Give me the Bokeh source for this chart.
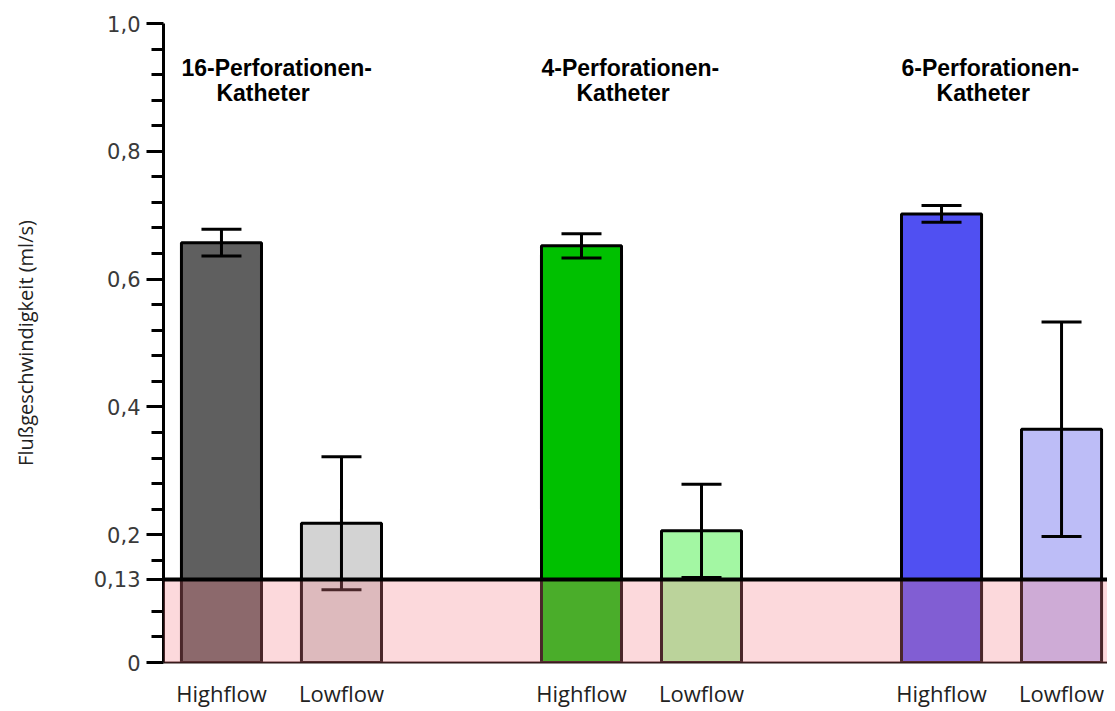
from bokeh.plotting import figure
from bokeh.models import (ColumnDataSource, Range1d, FixedTicker, Whisker, TeeHead,
                          BoxAnnotation, Span, Label)
from bokeh.embed import file_html
from bokeh.resources import INLINE

# ---- data ----
groups = ["16-Perforationen-", "4-Perforationen-", "6-Perforationen-"]
group_line2 = ["Katheter", "Katheter", "Katheter"]
conditions = ["Highflow", "Lowflow"]
means = [0.657, 0.218, 0.652, 0.206, 0.702, 0.365]
errors = [0.021, 0.104, 0.019, 0.073, 0.013, 0.168]
colors = ["#5f5f5f", "#d3d3d3", "#00c000", "#a3f7a3", "#5050f2", "#bdbdf7"]
threshold = 0.13
y_tick_values = [0, 0.13, 0.2, 0.4, 0.6, 0.8, 1.0]
y_tick_labels = ["0", "0,13", "0,2", "0,4", "0,6", "0,8", "1,0"]
y_axis_title = "Flußgeschwindigkeit (ml/s)"

# ---- layout (positions computed from indices) ----
xs, labels = [], []
for g in range(len(groups)):
    for s, c in enumerate(conditions):
        xs.append(1 + 3 * g + s)
        labels.append(c)

src = ColumnDataSource(dict(
    x=xs, top=means, color=colors,
    upper=[m + e for m, e in zip(means, errors)],
    lower=[m - e for m, e in zip(means, errors)],
))

p = figure(width=1107, height=710, output_backend="svg", toolbar_location=None,
           x_range=Range1d(0.517, 8.383), y_range=Range1d(0, 1.0),
           min_border_left=163, min_border_right=0, min_border_top=23,
           min_border_bottom=47)
p.outline_line_color = None
p.xgrid.visible = False
p.ygrid.visible = False
p.background_fill_color = "white"

p.vbar(x="x", top="top", width=0.667, bottom=0, source=src,
       fill_color="color", line_color="black", line_width=3)

tee_u = TeeHead(size=40, line_width=3, line_color="black")
tee_l = TeeHead(size=40, line_width=3, line_color="black")
wh = Whisker(base="x", upper="upper", lower="lower", source=src,
             line_width=3, line_color="black", upper_head=tee_u, lower_head=tee_l,
             level="annotation")
p.add_layout(wh)

p.add_layout(BoxAnnotation(bottom=0, top=threshold, fill_color="#f5808a",
                           fill_alpha=0.3, line_color=None, level="annotation"))
p.add_layout(Span(location=threshold, dimension="width", line_color="black",
                  line_width=4, level="annotation"))

# y axis
minor = [round(i * 0.04, 2) for i in range(1, 25) if i % 5 != 0 and i != 3]
p.yaxis.ticker = FixedTicker(ticks=y_tick_values, minor_ticks=minor)
p.yaxis.major_label_overrides = {v: l for v, l in zip(y_tick_values, y_tick_labels)}
p.yaxis.axis_line_width = 3
p.yaxis.axis_line_color = "black"
p.yaxis.major_tick_line_width = 3
p.yaxis.minor_tick_line_width = 3
p.yaxis.major_tick_out = 17
p.yaxis.major_tick_in = 0
p.yaxis.minor_tick_out = 12
p.yaxis.minor_tick_in = 0
p.yaxis.major_label_text_font = "DejaVu Sans"
p.yaxis.major_label_text_font_size = "21px"
p.yaxis.major_label_text_color = "#3a3a3a"
p.yaxis.major_label_standoff = 6
p.yaxis.axis_label = y_axis_title
p.yaxis.axis_label_text_font = "Open Sans"
p.yaxis.axis_label_text_font_size = "20px"
p.yaxis.axis_label_text_font_style = "normal"
p.yaxis.axis_label_text_color = "#222222"
p.yaxis.axis_label_standoff = 52

# x axis
p.xaxis.ticker = FixedTicker(ticks=xs)
p.xaxis.major_label_overrides = {x: l for x, l in zip(xs, labels)}
p.xaxis.axis_line_color = "#2a1414"
p.xaxis.axis_line_width = 2
p.xaxis.major_tick_line_color = None
p.xaxis.minor_tick_line_color = None
p.xaxis.major_tick_out = 0
p.xaxis.major_tick_in = 0
p.xaxis.major_label_text_font = "Open Sans"
p.xaxis.major_label_text_font_size = "22px"
p.xaxis.major_label_text_color = "#222222"
p.xaxis.major_label_standoff = 15

# group titles
for g, (t1, t2) in enumerate(zip(groups, group_line2)):
    gx = 1 + 3 * g
    p.add_layout(Label(x=gx, y=0.931, text=t1, x_offset=-40,
                       text_font="Liberation Sans", text_font_style="bold",
                       text_font_size="23px", text_color="black",
                       text_baseline="alphabetic"))
    p.add_layout(Label(x=gx, y=0.892, text=t2, x_offset=-5,
                       text_font="Liberation Sans", text_font_style="bold",
                       text_font_size="23px", text_color="black",
                       text_baseline="alphabetic"))

open("out.html", "w").write(file_html(p, INLINE))
